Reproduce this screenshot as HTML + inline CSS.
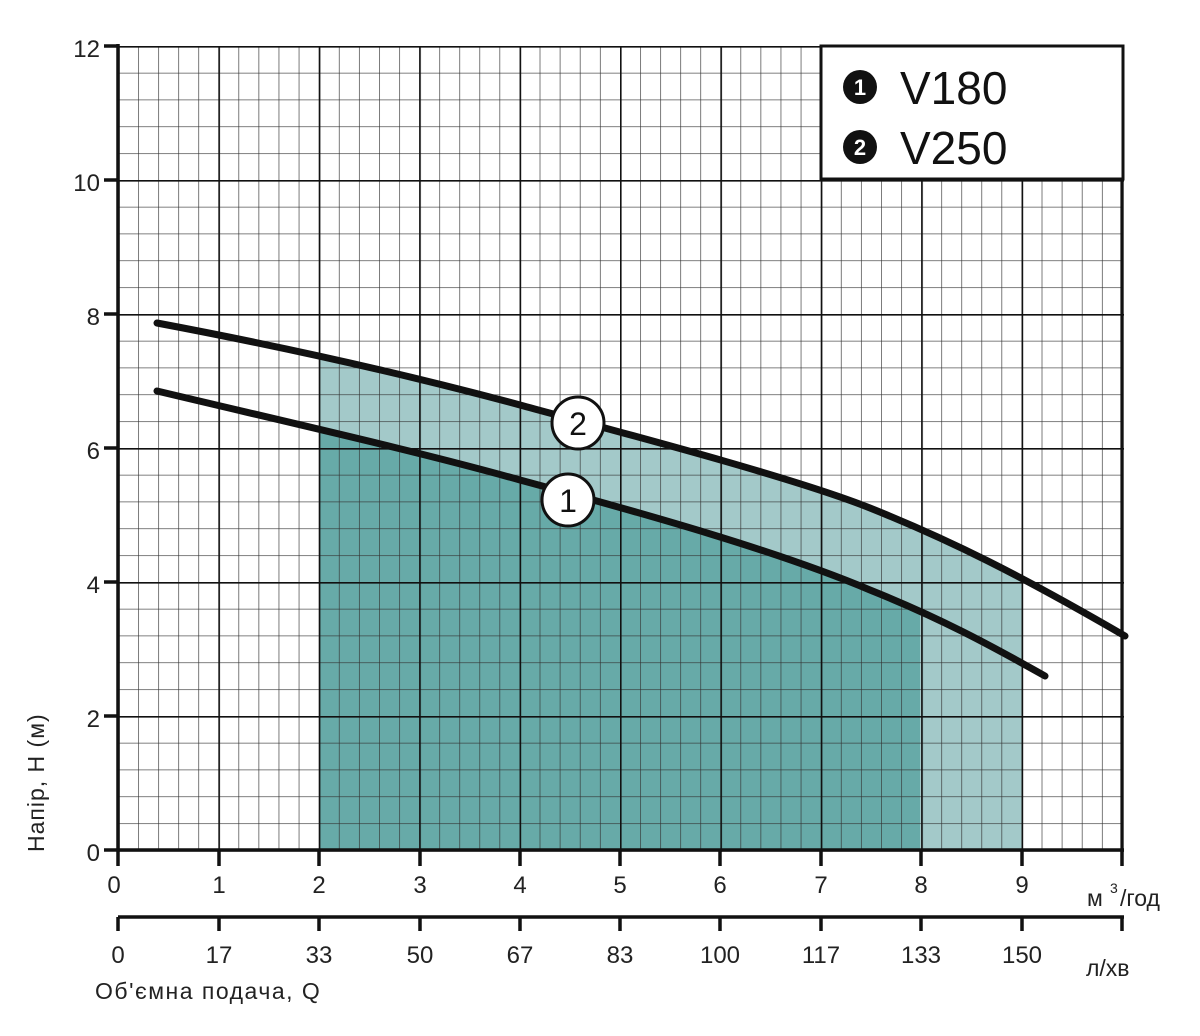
<!DOCTYPE html>
<html><head><meta charset="utf-8"><style>
html,body{margin:0;padding:0;background:#fff;}
svg{display:block;font-family:"Liberation Sans","DejaVu Sans",sans-serif;}
</style></head><body>
<svg width="1200" height="1036" viewBox="0 0 1200 1036" xmlns="http://www.w3.org/2000/svg">
<defs>
<pattern id="minor" x="118" y="46" width="20.08" height="26.8" patternUnits="userSpaceOnUse">
<path d="M0 0V26.8M0 0H20.08" stroke="#333" stroke-width="1.3" fill="none"/>
</pattern>
<pattern id="major" x="118" y="46" width="100.4" height="134" patternUnits="userSpaceOnUse">
<path d="M0 0V134M0 0H100.4" stroke="#111" stroke-width="3.2" fill="none"/>
</pattern>
</defs>
<path d="M319 850 L319 357 L420 380 L520 405 L620 432 L720 458 L820 490 L870 508 L920 528 L970 551 L1022 579 L1022 850Z" fill="#a3c9c9"/>
<path d="M319 850 L319 430 L420 455 L520 480 L620 508 L720 538 L820 572 L870 590 L920 610 L920 850Z" fill="#67aaa8"/>
<rect x="118" y="46" width="1004" height="804" fill="url(#minor)"/>
<rect x="118" y="46" width="1006" height="806" fill="url(#major)"/>
<line x1="1122" y1="46" x2="1122" y2="850" stroke="#111" stroke-width="3.2"/>
<rect x="821" y="46" width="302" height="133" fill="#fff" stroke="#111" stroke-width="3"/>
<circle cx="860" cy="87" r="17" fill="#111"/>
<text x="860" y="95" font-size="22" font-weight="bold" fill="#fff" text-anchor="middle">1</text>
<text x="900" y="104" font-size="46" fill="#111">V180</text>
<circle cx="860" cy="147" r="17" fill="#111"/>
<text x="860" y="155" font-size="22" font-weight="bold" fill="#fff" text-anchor="middle">2</text>
<text x="900" y="164" font-size="46" fill="#111">V250</text>
<g stroke="#111" stroke-width="3.5" fill="none">
<line x1="118" y1="44" x2="118" y2="866"/>
<line x1="104" y1="850" x2="1124" y2="850"/>
<path d="M104 46H118M104 180H118M104 314H118M104 448H118M104 582H118M104 716H118"/>
<path d="M219 850V866M319 850V866M420 850V866M520 850V866M620 850V866M720 850V866M821 850V866M921 850V866M1022 850V866M1122 850V866"/>
<line x1="118" y1="917" x2="1124" y2="917"/>
<path d="M118 917V931M219 917V931M319 917V931M420 917V931M520 917V931M620 917V931M720 917V931M821 917V931M921 917V931M1022 917V931M1122 917V931"/>
</g>
<g stroke="#111" stroke-width="7" fill="none" stroke-linecap="round" stroke-linejoin="round">
<path d="M157 323 C300 350 420 378 520 405 C650 440 800 480 870 508 C950 540 1020 575 1125 636"/>
<path d="M157 391 C300 425 420 452 520 480 C650 515 780 552 870 590 C940 618 990 645 1045 676"/>
</g>
<circle cx="578" cy="423" r="26" fill="#fff" stroke="#111" stroke-width="3"/>
<text x="578" y="435" font-size="32" fill="#111" text-anchor="middle">2</text>
<circle cx="568" cy="500" r="26" fill="#fff" stroke="#111" stroke-width="3"/>
<text x="568" y="512" font-size="32" fill="#111" text-anchor="middle">1</text>
<g font-size="24" fill="#222" text-anchor="end">
<text x="100" y="57">12</text><text x="100" y="191">10</text><text x="100" y="325">8</text>
<text x="100" y="459">6</text><text x="100" y="593">4</text><text x="100" y="727">2</text><text x="100" y="861">0</text>
</g>
<g font-size="24" fill="#222" text-anchor="middle">
<text x="114" y="893">0</text><text x="219" y="893">1</text><text x="319" y="893">2</text><text x="420" y="893">3</text>
<text x="520" y="893">4</text><text x="620" y="893">5</text><text x="720" y="893">6</text><text x="821" y="893">7</text>
<text x="921" y="893">8</text><text x="1022" y="893">9</text>
<text x="118" y="963">0</text><text x="219" y="963">17</text><text x="319" y="963">33</text><text x="420" y="963">50</text>
<text x="520" y="963">67</text><text x="620" y="963">83</text><text x="720" y="963">100</text><text x="821" y="963">117</text>
<text x="921" y="963">133</text><text x="1022" y="963">150</text>
</g>
<text x="1087" y="906" font-size="23" fill="#222">м</text>
<text x="1110" y="893" font-size="14" fill="#222">3</text>
<text x="1120" y="906" font-size="23" fill="#222">/год</text>
<text x="1086" y="976" font-size="23" fill="#222">л/хв</text>
<text x="95" y="999" font-size="23" fill="#222" letter-spacing="1.5">Об'ємна подача, Q</text>
<text transform="translate(44,852) rotate(-90)" font-size="23" fill="#222" letter-spacing="1">Напір, Н (м)</text>
</svg>
</body></html>
